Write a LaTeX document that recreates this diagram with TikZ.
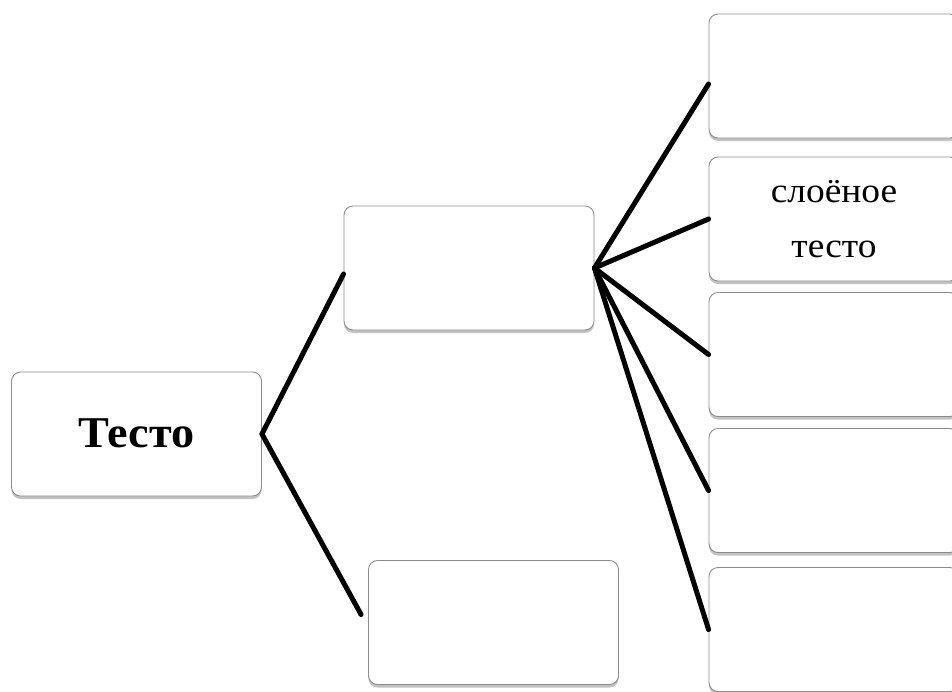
\documentclass[tikz,border=0pt]{standalone}
\usepackage{fontspec}
\setmainfont{Liberation Serif}
\usetikzlibrary{shadows,calc}
\tikzset{
  box/.style={rectangle, rounded corners=9pt, draw=black!45, line width=0.9pt,
    fill=white, minimum width=250pt, minimum height=124pt, inner sep=0pt,
    drop shadow={shadow xshift=0pt, shadow yshift=-3pt, opacity=0.4, fill=black!60}},
  link/.style={line width=5pt, line cap=round, black}
}
\begin{document}
\begin{tikzpicture}[x=1pt,y=-1pt]
\useasboundingbox (0,0) rectangle (952,691);
\clip (0,0) rectangle (952,691);
\node[box] (root) at (136.5,434) {\raisebox{2pt}{\fontsize{44}{50}\selectfont\bfseries\scalebox{1.05}[1]{Тесто}}};
\node[box] (mid1) at (469,268) {};
\node[box] (mid2) at (493.5,622.5) {};
\node[box] (r1) at (834,76) {};
\node[box] (r2) at (834,219) {\raisebox{2pt}{\fontsize{35}{55}\selectfont\begin{tabular}{@{}c@{}}\scalebox{1.07}[1]{слоёное}\\\scalebox{1.07}[1]{тесто}\end{tabular}}};
\node[box] (r3) at (834,354.5) {};
\node[box] (r4) at (834,490.5) {};
\node[box] (r5) at (834,629.5) {};
\draw[link] (root.east) -- ($(mid1.west)+(0,6)$);
\draw[link] (root.east) -- ($(mid2.west)+(-7,-8)$);
\draw[link] (mid1.east) -- ($(r1.west)+(0,8)$);
\draw[link] (mid1.east) -- (r2.west);
\draw[link] (mid1.east) -- (r3.west);
\draw[link] (mid1.east) -- (r4.west);
\draw[link] (mid1.east) -- (r5.west);
\end{tikzpicture}
\end{document}
